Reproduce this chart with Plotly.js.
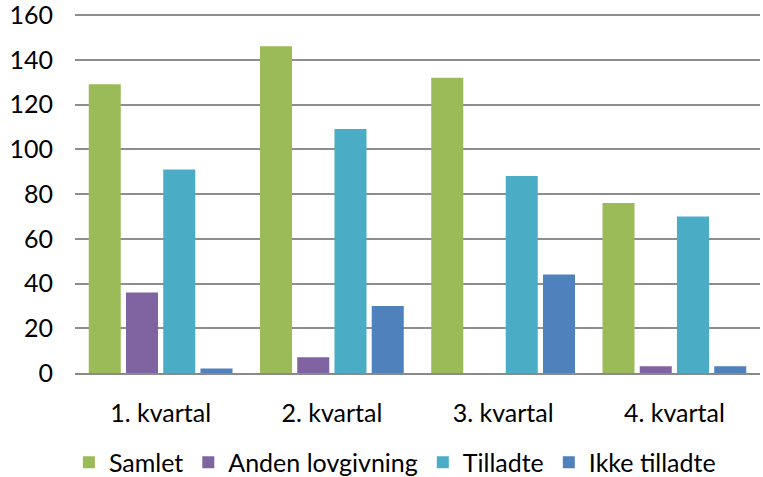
<!DOCTYPE html>
<html>
<head>
<meta charset="utf-8">
<script src="https://cdn.plot.ly/plotly-3.0.1.min.js"></script>
<style>html,body{margin:0;padding:0;background:#fff;}#chart{width:763px;height:477px;}</style>
</head>
<body>
<div id="chart"></div>
<script>
var categories = ["1. kvartal", "2. kvartal", "3. kvartal", "4. kvartal"];
var seriesNames = ["Samlet", "Anden lovgivning", "Tilladte", "Ikke tilladte"];
var samlet = [129, 146, 132, 76];
var andenLovgivning = [36, 7, 0, 3];
var tilladte = [91, 109, 88, 70];
var ikkeTilladte = [2, 30, 44, 3];
var yTicks = [0, 20, 40, 60, 80, 100, 120, 140, 160];

var colors = ["#9BBB59", "#8064A2", "#4BACC6", "#4F81BD"];
var values = [samlet, andenLovgivning, tilladte, ikkeTilladte];

var traces = values.map(function (v, i) {
  return {
    type: "bar",
    name: seriesNames[i],
    x: categories,
    y: v,
    marker: { color: colors[i], line: { width: 0 } },
    hoverinfo: "x+y+name"
  };
});

var font = "Lato, 'Open Sans', sans-serif";
var fs = 25;

var layout = {
  width: 763,
  height: 477,
  margin: { l: 75, r: 3, t: 14, b: 104, autoexpand: false },
  paper_bgcolor: "#ffffff",
  plot_bgcolor: "#ffffff",
  barmode: "group",
  bargap: 0.13,
  bargroupgap: 0.14,
  font: { family: font, size: fs, color: "#000000" },
  xaxis: {
    type: "category",
    showgrid: false,
    showline: true,
    linecolor: "#8a8a8a",
    linewidth: 2.2,
    ticks: "",
    ticklabelstandoff: 17,
    tickfont: { family: font, size: fs, color: "#000000" },
    zeroline: false,
    automargin: false
  },
  yaxis: {
    range: [0, 160.45],
    tickvals: yTicks,
    ticktext: yTicks.map(String),
    showgrid: true,
    gridcolor: "#8e8e8e",
    gridwidth: 2,
    zeroline: false,
    showline: false,
    ticks: "",
    ticklabelstandoff: 21,
    ticklabeloverflow: "allow",
    tickfont: { family: font, size: fs, color: "#000000" },
    automargin: true
  },
  showlegend: true,
  legend: {
    orientation: "h",
    x: 0.467,
    xanchor: "center",
    y: -0.249,
    yanchor: "middle",
    font: { family: font, size: fs, color: "#000000" },
    traceorder: "normal",
    itemclick: false,
    itemdoubleclick: false
  }
};

Plotly.newPlot("chart", traces, layout, { displayModeBar: false, staticPlot: true });
</script>
</body>
</html>
